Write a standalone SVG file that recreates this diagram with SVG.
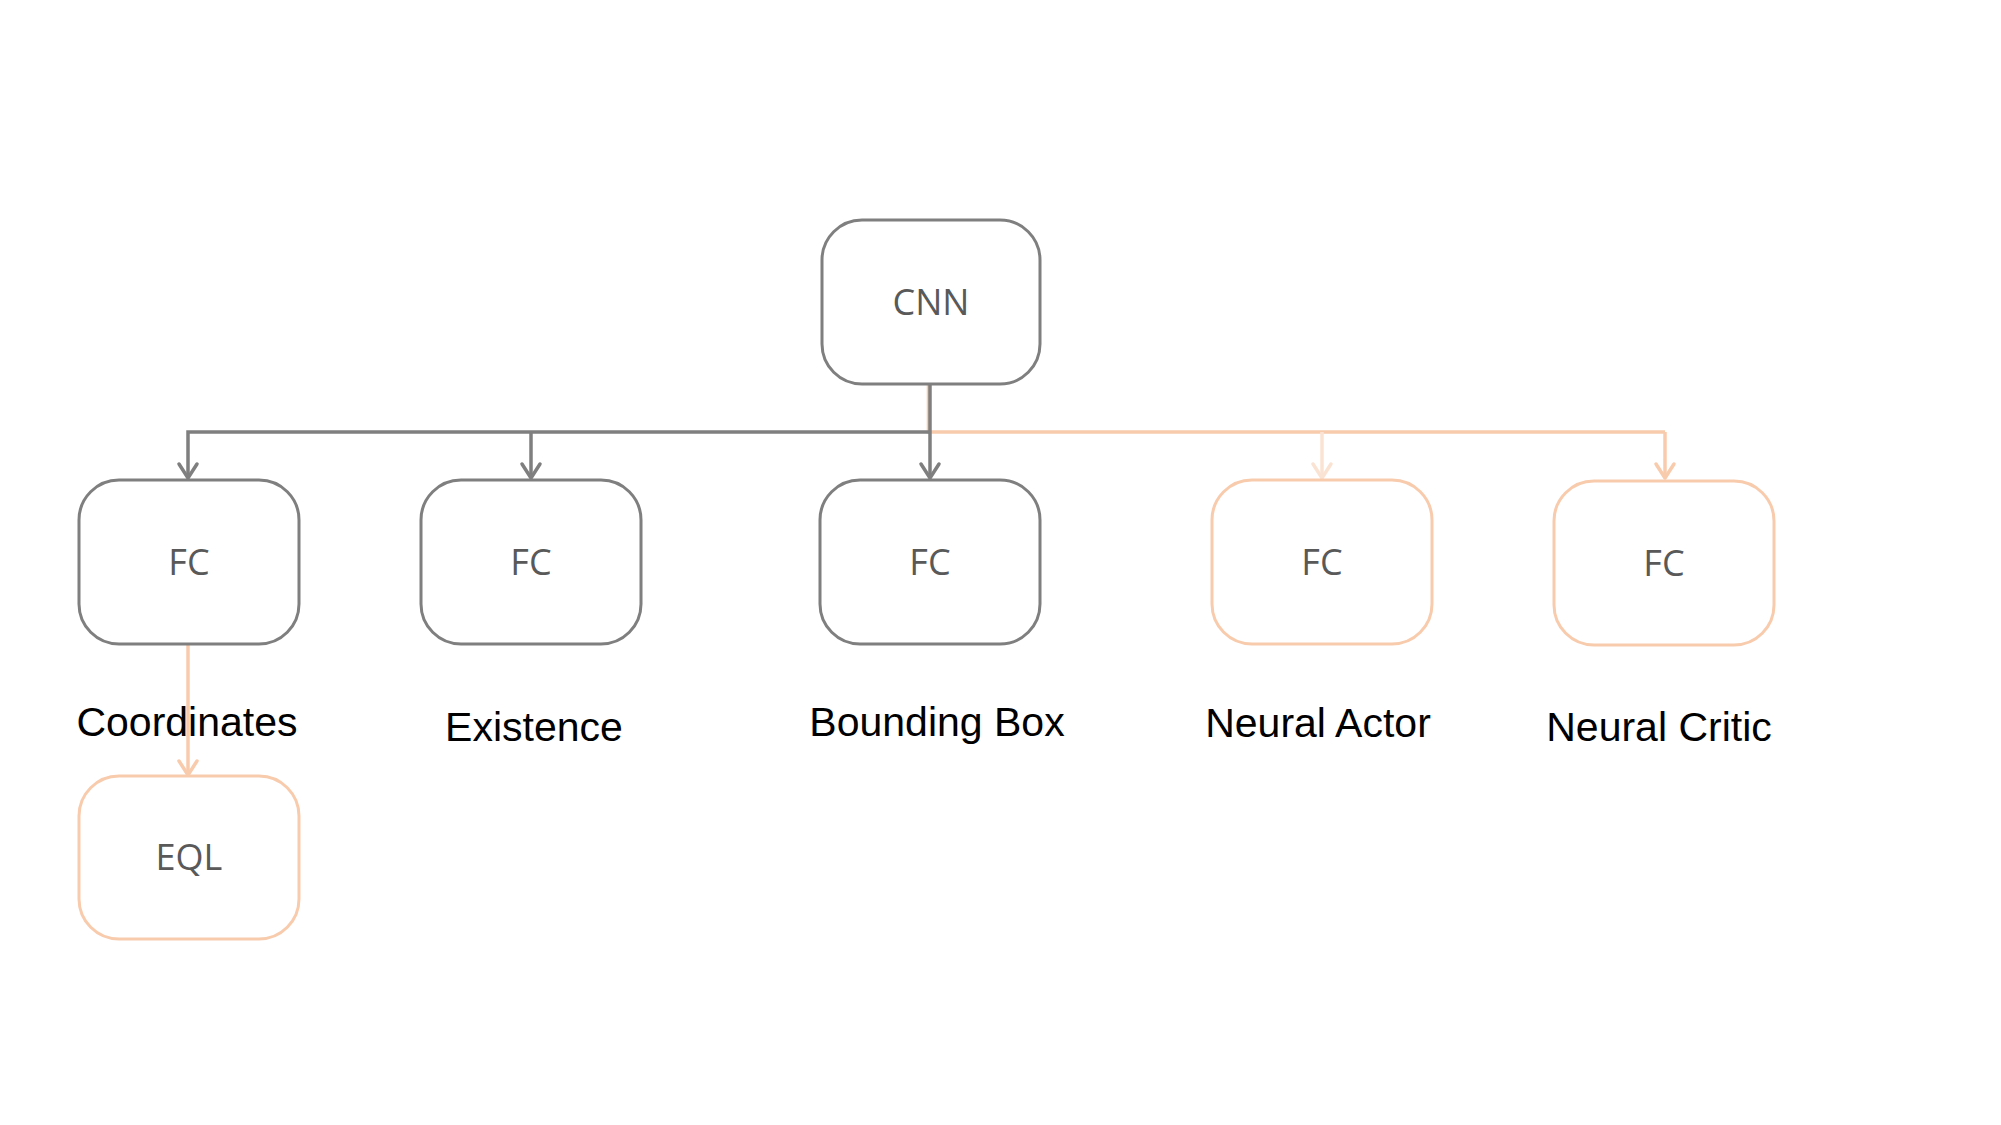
<svg xmlns="http://www.w3.org/2000/svg" width="2001" height="1125" viewBox="0 0 2001 1125">
<style>
.box{fill:#fff;stroke-width:3}
.g{stroke:#7f7f7f}
.o{stroke:#f8cbad}
.bt{font-family:"Open Sans","Noto Sans",sans-serif;font-size:36px;fill:#595959;text-anchor:middle}
.lbl{font-family:"Liberation Sans",Arial,sans-serif;font-size:41px;fill:#000;text-anchor:middle}
.c{fill:none;stroke-width:3.5}
</style>
<defs>
<marker id="ag" markerUnits="userSpaceOnUse" viewBox="-18 -12 22 24" markerWidth="22" markerHeight="24" refX="0" refY="0" orient="auto">
<path d="M-14,-9 L0,0 L-14,9" fill="none" stroke="#7f7f7f" stroke-width="3.5" stroke-linecap="round" stroke-linejoin="round"/>
</marker>
<marker id="ao" markerUnits="userSpaceOnUse" viewBox="-18 -12 22 24" markerWidth="22" markerHeight="24" refX="0" refY="0" orient="auto">
<path d="M-14,-9 L0,0 L-14,9" fill="none" stroke="#f8cbad" stroke-width="3.5" stroke-linecap="round" stroke-linejoin="round"/>
</marker>
<marker id="al" markerUnits="userSpaceOnUse" viewBox="-18 -12 22 24" markerWidth="22" markerHeight="24" refX="0" refY="0" orient="auto">
<path d="M-14,-9 L0,0 L-14,9" fill="none" stroke="#fbe3d4" stroke-width="3.5" stroke-linecap="round" stroke-linejoin="round"/>
</marker>
</defs>
<rect width="2001" height="1125" fill="#fff"/>
<g id="connectors">
<path class="c" d="M928.5,384 V432 H1665" stroke="#f8cbad"/>
<path class="c" d="M1665,432 V478" stroke="#f8cbad" marker-end="url(#ao)"/>
<path class="c" d="M1322,432 V478" stroke="#fbe3d4" marker-end="url(#al)"/>
<path class="c" d="M188,644 V775" stroke="#f8cbad" marker-end="url(#ao)"/>
<path class="c" d="M930,384 V478" stroke="#7f7f7f" marker-end="url(#ag)"/>
<path class="c" d="M930,432 H188 V478" stroke="#7f7f7f" stroke-linejoin="miter" marker-end="url(#ag)"/>
<path class="c" d="M531,432 V478" stroke="#7f7f7f" marker-end="url(#ag)"/>
</g>
<g id="cnn"><rect class="box g" x="822" y="220" width="218" height="164" rx="40"/><text class="bt" x="931" y="315">CNN</text></g>
<g id="fc1"><rect class="box g" x="79" y="480" width="220" height="164" rx="40"/><text class="bt" x="189" y="575">FC</text></g>
<g id="fc2"><rect class="box g" x="421" y="480" width="220" height="164" rx="40"/><text class="bt" x="531" y="575">FC</text></g>
<g id="fc3"><rect class="box g" x="820" y="480" width="220" height="164" rx="40"/><text class="bt" x="930" y="575">FC</text></g>
<g id="fc4"><rect class="box o" x="1212" y="480" width="220" height="164" rx="40"/><text class="bt" x="1322" y="575">FC</text></g>
<g id="fc5"><rect class="box o" x="1554" y="481" width="220" height="164" rx="40"/><text class="bt" x="1664" y="576">FC</text></g>
<g id="eql"><rect class="box o" x="79" y="776" width="220" height="163" rx="40"/><text class="bt" x="189" y="870">EQL</text></g>
<g id="labels">
<text class="lbl" x="187" y="736">Coordinates</text>
<text class="lbl" x="534" y="741">Existence</text>
<text class="lbl" x="937" y="736">Bounding Box</text>
<text class="lbl" x="1318" y="737">Neural Actor</text>
<text class="lbl" x="1659" y="741">Neural Critic</text>
</g>
</svg>
